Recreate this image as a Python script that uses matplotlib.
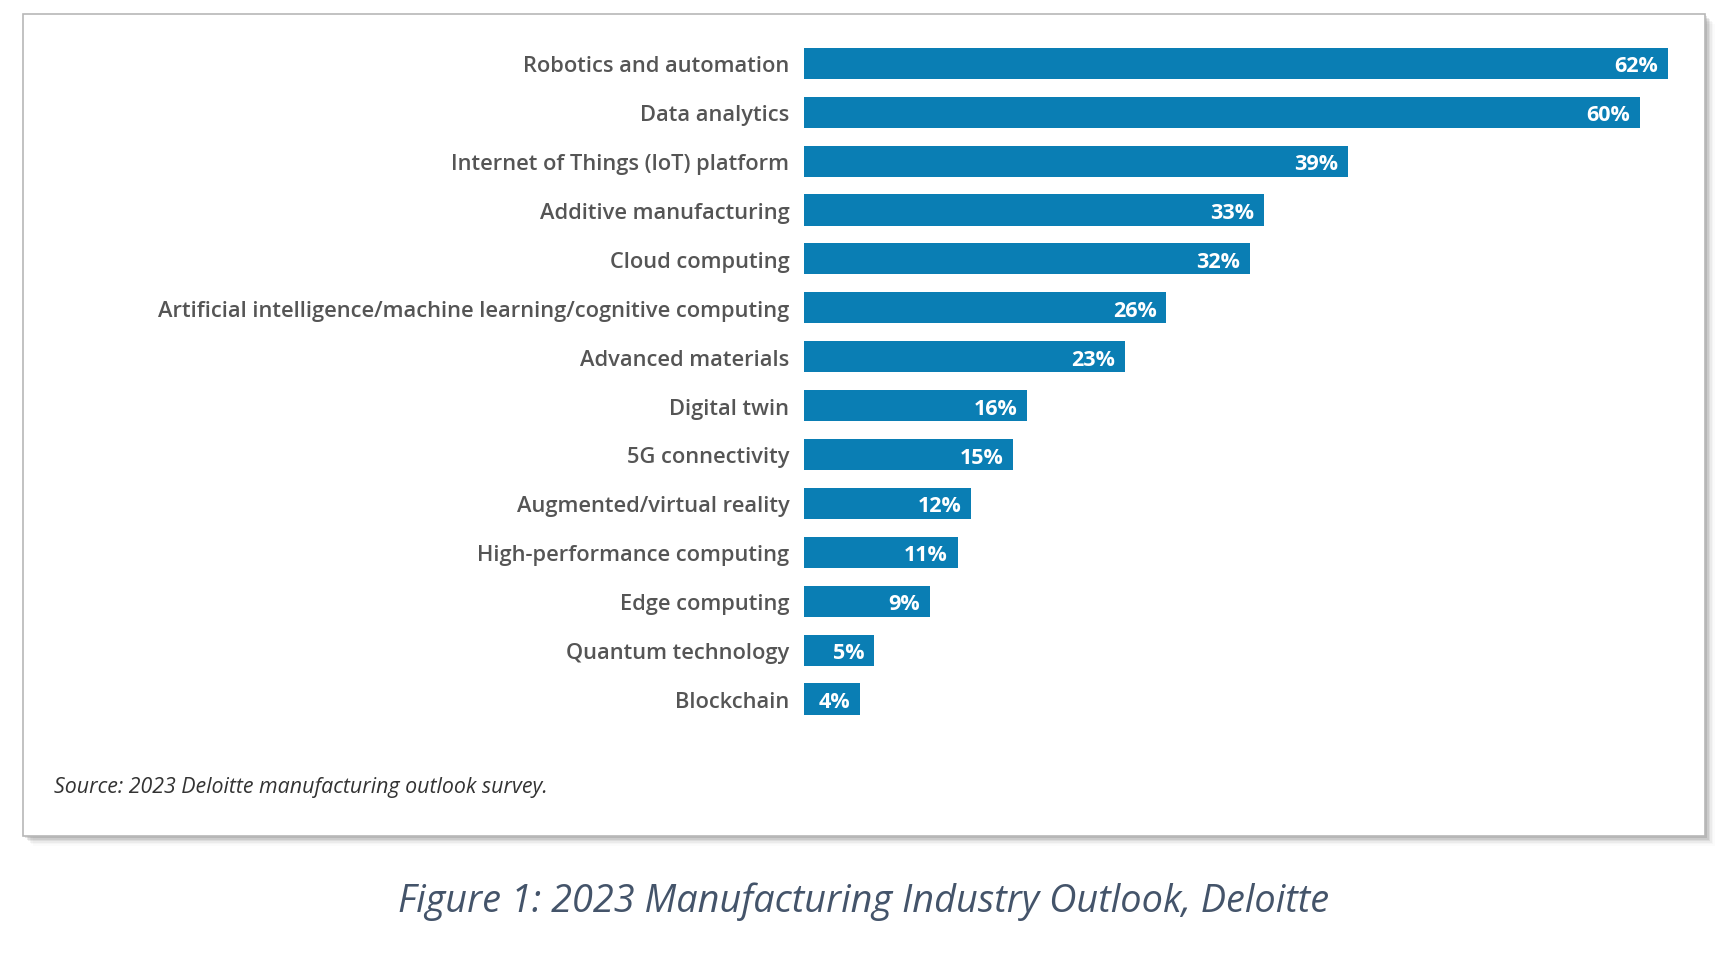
import matplotlib
matplotlib.use("Agg")
import matplotlib.pyplot as plt
import matplotlib.patches as mpatches

# ── Data ──────────────────────────────────────────────────────────────────────
categories = [
    "Robotics and automation",
    "Data analytics",
    "Internet of Things (loT) platform",
    "Additive manufacturing",
    "Cloud computing",
    "Artificial intelligence/machine learning/cognitive computing",
    "Advanced materials",
    "Digital twin",
    "5G connectivity",
    "Augmented/virtual reality",
    "High-performance computing",
    "Edge computing",
    "Quantum technology",
    "Blockchain",
]
values = [62, 60, 39, 33, 32, 26, 23, 16, 15, 12, 11, 9, 5, 4]

source_text = "Source: 2023 Deloitte manufacturing outlook survey."
caption_text = "Figure 1: 2023 Manufacturing Industry Outlook, Deloitte"

# ── Style ─────────────────────────────────────────────────────────────────────
W, H, DPI = 1728, 970, 100
BAR_COLOR = "#0a7eb4"
LABEL_COLOR = "#555555"
plt.rcParams["font.family"] = ["Open Sans", "DejaVu Sans"]


def fx(px):
    return px / W


def fy(py):
    # py measured from top of image
    return 1 - py / H


fig = plt.figure(figsize=(W / DPI, H / DPI), dpi=DPI)
fig.patch.set_facecolor("white")

# ── Panel with soft drop shadow ──────────────────────────────────────────────
px0, py0, px1, py1 = 23, 15, 1705, 837
for i, a in enumerate([0.10, 0.08, 0.06, 0.04, 0.025, 0.015]):
    off = 2 + i * 1.5
    fig.patches.append(mpatches.Rectangle(
        (fx(px0 + off), fy(py1 + off)), fx(px1 - px0), (py1 - py0) / H,
        transform=fig.transFigure, facecolor="black", edgecolor="none",
        alpha=a, zorder=0))
fig.patches.append(mpatches.Rectangle(
    (fx(px0), fy(py1)), fx(px1 - px0), (py1 - py0) / H,
    transform=fig.transFigure, facecolor="white", edgecolor="#b8b8b8",
    lw=1.2, zorder=1))

# ── Bars ─────────────────────────────────────────────────────────────────────
step = 48.9
top_c, ax_left, ax_right = 64.3, 804.3, 1705
ax_top = top_c - step / 2
ax_h = step * len(categories)
ax = fig.add_axes([fx(ax_left), fy(ax_top + ax_h), fx(ax_right - ax_left), ax_h / H])
ax.set_zorder(2)
ax.patch.set_alpha(0)

ypos = list(range(len(categories)))
ax.barh(ypos, values, height=0.635, color=BAR_COLOR, edgecolor="none")
ax.set_ylim(len(categories) - 0.5, -0.5)
ax.set_xlim(0, (ax_right - ax_left) / 13.93)

for y, v in zip(ypos, values):
    ax.annotate(f"{v}%", (v, y), xytext=(-7, 0), textcoords="offset points",
                ha="right", va="center_baseline", color="white",
                fontsize=15.5, fontweight="bold")

ax.set_yticks(ypos)
ax.set_yticklabels(categories, fontsize=15.75, color=LABEL_COLOR, fontweight="semibold")
ax.tick_params(axis="y", length=0, pad=10.8)
ax.set_xticks([])
for s in ax.spines.values():
    s.set_visible(False)

# ── Source + caption ─────────────────────────────────────────────────────────
fig.text(fx(54), fy(788), source_text, ha="left", va="center",
         fontsize=15.4, style="italic", color="#333333", zorder=3)
fig.text(0.5, fy(902), caption_text, ha="center", va="center",
         fontsize=27.3, style="italic", color="#44546a", zorder=3)

fig.savefig("out.png", dpi=DPI)
